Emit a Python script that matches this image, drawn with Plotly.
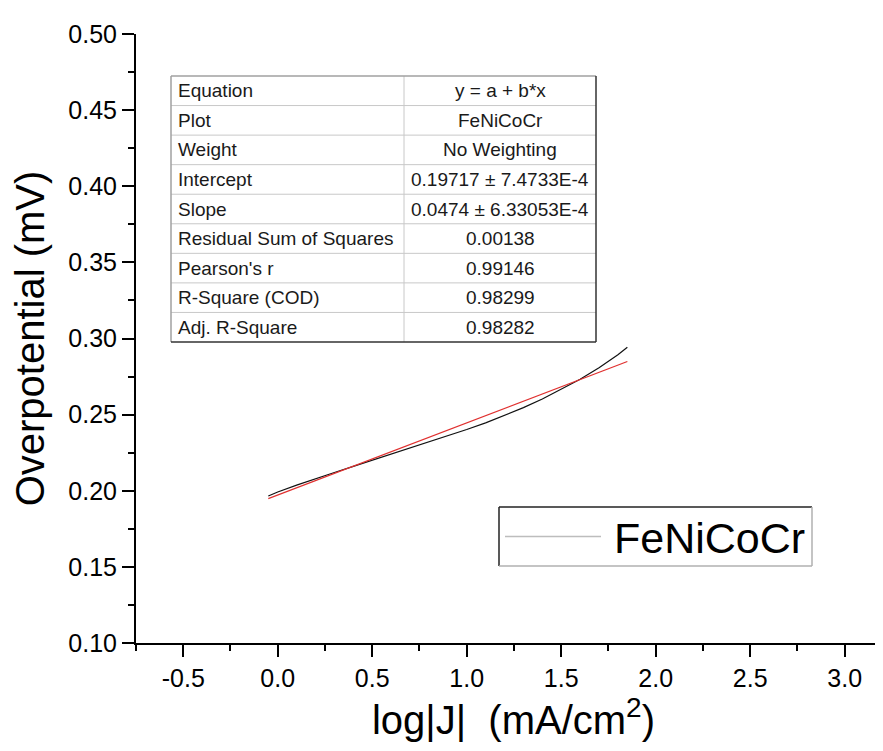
import plotly.graph_objects as go

# ---------------- data ----------------
series_name = "FeNiCoCr"
logj = [-0.05, 0.0, 0.1, 0.2, 0.3, 0.4, 0.5, 0.6, 0.7, 0.8, 0.9, 1.0,
        1.1, 1.2, 1.3, 1.4, 1.5, 1.6, 1.7, 1.8, 1.85]
overpotential = [0.1966, 0.1992, 0.2037, 0.2080, 0.2120, 0.2160, 0.2200,
                 0.2240, 0.2280, 0.2320, 0.2360, 0.2402, 0.2446, 0.2494,
                 0.2546, 0.2603, 0.2665, 0.2732, 0.2808, 0.2893, 0.2942]

fit_x = [-0.05, 1.85]
fit_y = [0.1948, 0.2849]

table_labels = ["Equation", "Plot", "Weight", "Intercept", "Slope",
                "Residual Sum of Squares", "Pearson's r", "R-Square (COD)",
                "Adj. R-Square"]
table_values = ["y = a + b*x", "FeNiCoCr", "No Weighting",
                "0.19717 ± 7.4733E-4", "0.0474 ± 6.33053E-4", "0.00138",
                "0.99146", "0.98299", "0.98282"]

x_ticks = [-0.5, 0.0, 0.5, 1.0, 1.5, 2.0, 2.5, 3.0]
y_ticks = [0.10, 0.15, 0.20, 0.25, 0.30, 0.35, 0.40, 0.45, 0.50]

# ---------------- layout geometry ----------------
W, H = 883, 751
ML, MR, MT, MB = 128, 0, 26, 116
PW = W - ML - MR
PH = H - MT - MB
FONT = "Arial, Liberation Sans, sans-serif"


def px(xp):
    return (xp - ML) / PW


def py(yp):
    return (H - MB - yp) / PH


fig = go.Figure()
fig.add_trace(go.Scatter(x=logj, y=overpotential, mode="lines", name=series_name,
                         line=dict(color="#111111", width=1.2), showlegend=False))
fig.add_trace(go.Scatter(x=fit_x, y=fit_y, mode="lines", name="Linear Fit",
                         line=dict(color="#e0302f", width=1.2), showlegend=False))

shapes = []
annotations = []

# ---------- fit table ----------
t_left, t_div, t_right, t_top, t_bot = 163, 396, 588, 68, 334
n = len(table_labels)
rh = (t_bot - t_top) / n
for i in range(1, n):
    yy = t_top + i * rh
    shapes.append(dict(type="line", xref="paper", yref="paper",
                       x0=px(t_left), x1=px(t_right), y0=py(yy), y1=py(yy),
                       line=dict(color="#c8c8c8", width=1)))
shapes.append(dict(type="line", xref="paper", yref="paper",
                   x0=px(t_div), x1=px(t_div), y0=py(t_top), y1=py(t_bot),
                   line=dict(color="#c8c8c8", width=1)))
# outer border (light top/left, dark right/bottom)
shapes.append(dict(type="line", xref="paper", yref="paper", x0=px(t_left), x1=px(t_right),
                   y0=py(t_top), y1=py(t_top), line=dict(color="#a0a0a0", width=1.5)))
shapes.append(dict(type="line", xref="paper", yref="paper", x0=px(t_left), x1=px(t_left),
                   y0=py(t_top), y1=py(t_bot), line=dict(color="#a0a0a0", width=1.5)))
shapes.append(dict(type="line", xref="paper", yref="paper", x0=px(t_right), x1=px(t_right),
                   y0=py(t_top), y1=py(t_bot), line=dict(color="#333333", width=1.5)))
shapes.append(dict(type="line", xref="paper", yref="paper", x0=px(t_left), x1=px(t_right),
                   y0=py(t_bot), y1=py(t_bot), line=dict(color="#333333", width=1.5)))
for i, (lab, val) in enumerate(zip(table_labels, table_values)):
    yc = t_top + (i + 0.5) * rh
    annotations.append(dict(text=lab, xref="paper", yref="paper", x=px(t_left + 5), y=py(yc),
                            xanchor="left", yanchor="middle", showarrow=False,
                            font=dict(family=FONT, size=19, color="#1a1a1a")))
    annotations.append(dict(text=val, xref="paper", yref="paper", x=px((t_div + t_right) / 2),
                            y=py(yc), xanchor="center", yanchor="middle", showarrow=False,
                            font=dict(family=FONT, size=19, color="#1a1a1a")))

# ---------- legend box ----------
l_left, l_right, l_top, l_bot = 491, 804, 499, 558
l_mid = (l_top + l_bot) / 2
shapes.append(dict(type="line", xref="paper", yref="paper", x0=px(l_left), x1=px(l_right),
                   y0=py(l_top), y1=py(l_top), line=dict(color="#222222", width=1.5)))
shapes.append(dict(type="line", xref="paper", yref="paper", x0=px(l_left), x1=px(l_left),
                   y0=py(l_top), y1=py(l_bot), line=dict(color="#222222", width=1.5)))
shapes.append(dict(type="line", xref="paper", yref="paper", x0=px(l_right), x1=px(l_right),
                   y0=py(l_top), y1=py(l_bot), line=dict(color="#b0b0b0", width=1.5)))
shapes.append(dict(type="line", xref="paper", yref="paper", x0=px(l_left), x1=px(l_right),
                   y0=py(l_bot), y1=py(l_bot), line=dict(color="#b0b0b0", width=1.5)))
shapes.append(dict(type="line", xref="paper", yref="paper", x0=px(497), x1=px(593),
                   y0=py(l_mid), y1=py(l_mid), line=dict(color="#bdbdbd", width=1.5)))
annotations.append(dict(text=series_name, xref="paper", yref="paper", x=px(604), y=py(l_mid + 1),
                        xanchor="left", yanchor="middle", showarrow=False,
                        font=dict(family=FONT, size=43, color="#000000")))

axis_common = dict(showgrid=False, zeroline=False, showline=True, linecolor="black",
                   linewidth=2, ticks="outside", ticklen=12, tickwidth=2, tickcolor="black",
                   tickfont=dict(family=FONT, size=25, color="black"), automargin=False,
                   mirror=False)

fig.update_layout(
    width=W, height=H,
    margin=dict(l=ML, r=MR, t=MT, b=MB),
    paper_bgcolor="white", plot_bgcolor="white",
    showlegend=False,
    shapes=shapes, annotations=annotations,
    xaxis=dict(**axis_common, range=[-0.75, 3.245], tickvals=x_ticks,
               ticktext=[f"{v:.1f}" for v in x_ticks],
               minor=dict(dtick=0.25, tick0=0, ticks="outside", ticklen=6, tickwidth=2,
                          tickcolor="black"),
               title=dict(text="log|J|  (mA/cm<sup>2</sup>)", standoff=14,
                          font=dict(family=FONT, size=40, color="black"))),
    yaxis=dict(**axis_common, range=[0.10, 0.50], tickvals=y_ticks,
               ticktext=[f"{v:.2f}" for v in y_ticks],
               minor=dict(dtick=0.025, tick0=0, ticks="outside", ticklen=6, tickwidth=2,
                          tickcolor="black"),
               title=dict(text="Overpotential (mV)", standoff=16,
                          font=dict(family=FONT, size=40, color="black"))),
)

fig.write_html("out.html")
